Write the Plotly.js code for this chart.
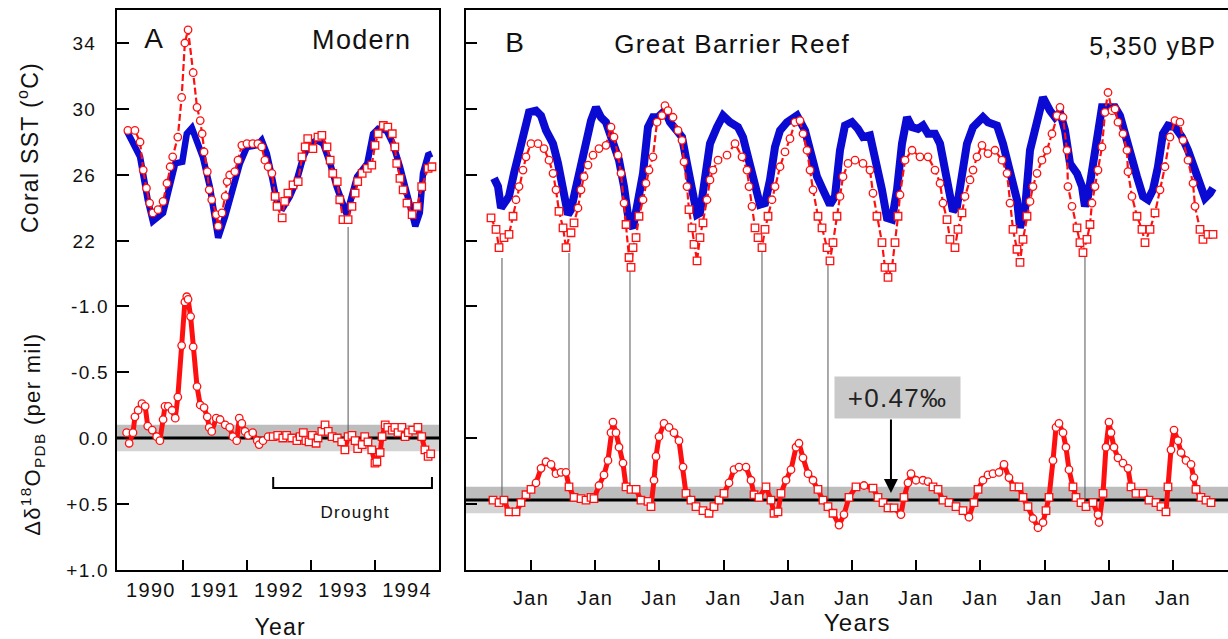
<!DOCTYPE html>
<html>
<head>
<meta charset="utf-8">
<script src="https://cdn.plot.ly/plotly-3.0.1.min.js"></script>
<style>
  html, body { margin: 0; padding: 0; background: #fff; }
  #chart { width: 1228px; height: 639px; }
  .main-svg text { letter-spacing: 1.3px; }
</style>
</head>
<body>
<div id="chart"></div>
<script>
// ---------------- DATA ----------------
// Panel A (Modern) : x in calendar years
const aInstrX = [1990.12,1990.33,1990.45,1990.53,1990.69,1990.80,1990.88,1990.99,1991.06,1991.14,1991.22,1991.31,1991.42,1991.55,1991.66,1991.78,1991.89,1992.00,1992.16,1992.23,1992.31,1992.39,1992.48,1992.56,1992.67,1992.78,1992.88,1992.98,1993.09,1993.19,1993.30,1993.40,1993.50,1993.56,1993.72,1993.88,1993.97,1994.05,1994.18,1994.28,1994.39,1994.50,1994.63,1994.70,1994.75,1994.83,1994.89];
const aInstrSst = [28.7,27.1,24.5,23.2,23.7,25.5,26.7,26.8,28.5,28.85,28.1,27.1,25.3,22.2,23.5,25.3,26.7,27.7,27.8,28.1,27.3,25.9,24.1,24.0,24.7,25.7,27.1,27.9,28.1,27.9,26.7,25.3,24.1,23.6,25.9,26.7,28.5,28.8,28.7,27.9,26.5,24.7,22.9,23.7,26.1,27.2,27.3];

const aCoralX = [1990.14,1990.25,1990.33,1990.38,1990.43,1990.48,1990.53,1990.61,1990.69,1990.75,
  1990.80,1990.84,1990.92,1990.98,1991.03,1991.08,1991.16,1991.22,1991.27,1991.30,
  1991.33,1991.38,1991.41,1991.45,1991.52,1991.55,1991.61,1991.66,1991.69,1991.73,
  1991.81,1991.86,1991.92,1992.00,1992.09,1992.17,1992.23,1992.28,1992.33,1992.39,
  1992.44,1992.47,1992.55,1992.59,1992.64,1992.72,1992.80,1992.86,1992.91,1992.95,
  1993.03,1993.11,1993.17,1993.25,1993.30,1993.34,1993.41,1993.45,1993.50,1993.58,
  1993.64,1993.69,1993.73,1993.80,1993.88,1993.95,1994.00,1994.05,1994.13,1994.20,
  1994.27,1994.31,1994.34,1994.39,1994.44,1994.50,1994.58,1994.66,1994.73,1994.83,1994.89];
const aCoralSst = [28.7,28.7,28.0,26.3,25.2,24.3,23.7,23.9,24.4,25.5,
  26.5,27.1,28.3,30.7,34.0,34.8,32.2,30.1,29.3,28.5,
  27.4,26.2,25.1,24.5,23.6,22.9,23.7,24.7,25.6,26.0,
  26.2,26.9,27.8,27.9,27.9,27.9,27.7,26.9,26.5,26.1,
  24.7,24.1,23.4,24.4,24.9,25.4,25.6,27.1,27.7,28.2,
  27.6,28.3,28.4,27.7,26.9,26.1,25.6,24.5,23.3,23.3,
  24.1,24.9,25.6,26.1,26.4,26.6,27.8,28.5,29.0,28.9,
  28.5,27.7,26.7,25.8,25.1,24.3,23.6,24.1,25.3,26.4,26.5];

const aD18X = [1990.12,1990.16,1990.22,1990.25,1990.30,1990.36,1990.41,1990.45,1990.52,1990.59,
  1990.64,1990.69,1990.72,1990.77,1990.83,1990.88,1990.92,1990.98,1991.03,1991.06,
  1991.08,1991.12,1991.16,1991.22,1991.27,1991.33,1991.38,1991.41,1991.45,1991.52,
  1991.58,1991.66,1991.73,1991.78,1991.84,1991.88,1991.92,1991.97,1992.02,1992.09,
  1992.16,1992.19,1992.25,1992.33,1992.41,1992.48,1992.56,1992.62,1992.70,1992.78,
  1992.83,1992.88,1992.92,1992.97,1993.02,1993.08,1993.11,1993.17,1993.22,1993.27,
  1993.33,1993.41,1993.48,1993.53,1993.58,1993.64,1993.69,1993.73,1993.80,1993.84,
  1993.89,1993.95,1994.00,1994.03,1994.08,1994.11,1994.16,1994.20,1994.27,1994.31,
  1994.36,1994.42,1994.47,1994.52,1994.59,1994.67,1994.73,1994.78,1994.83,1994.87];
const aD18 = [-0.04,0.04,-0.04,-0.16,-0.21,-0.26,-0.24,-0.09,-0.06,-0.01,
  0.02,-0.14,-0.24,-0.24,-0.21,-0.15,-0.31,-0.70,-1.03,-1.07,
  -1.05,-0.92,-0.69,-0.39,-0.25,-0.23,-0.16,-0.08,-0.05,-0.15,
  -0.14,-0.10,-0.08,-0.01,0.02,-0.15,-0.11,-0.05,-0.02,-0.04,
  0.02,0.05,0.02,-0.01,-0.01,-0.02,0.00,-0.02,0.00,0.02,
  -0.01,-0.04,0.02,0.03,-0.02,0.04,0.00,-0.05,-0.10,-0.05,
  -0.01,0.00,0.03,0.09,-0.01,-0.02,0.02,0.08,0.05,-0.01,
  0.03,0.09,0.19,0.18,0.11,-0.01,-0.10,-0.08,-0.06,-0.08,
  -0.04,-0.08,-0.01,-0.04,-0.06,-0.08,-0.01,0.09,0.14,0.12];

// Panel B (Great Barrier Reef, 5,350 yBP): x in years, "Jan" at 1..11
const bInstrX = [0.424,0.486,0.533,0.611,0.657,0.735,0.813,0.891,0.969,1.078,
  1.156,1.234,1.343,1.421,1.499,1.576,1.623,1.701,1.779,1.857,
  1.935,2.012,2.090,2.168,2.277,2.371,2.449,2.527,2.589,2.667,
  2.745,2.822,2.900,2.978,3.087,3.165,3.274,3.352,3.430,3.508,
  3.586,3.632,3.710,3.788,3.897,3.991,4.100,4.224,4.302,4.380,
  4.489,4.567,4.645,4.723,4.801,4.879,4.988,5.143,5.268,5.346,
  5.455,5.548,5.657,5.735,5.813,5.891,6.000,6.093,6.171,6.280,
  6.358,6.467,6.545,6.623,6.701,6.779,6.857,6.935,7.028,7.106,
  7.184,7.293,7.371,7.449,7.526,7.573,7.636,7.713,7.791,7.885,
  8.040,8.118,8.259,8.352,8.461,8.570,8.617,8.695,8.773,8.882,
  8.975,9.084,9.162,9.240,9.318,9.396,9.505,9.583,9.629,9.676,
  9.754,9.832,9.894,9.988,10.097,10.174,10.252,10.330,10.439,10.533,
  10.611,10.688,10.766,10.844,10.922,11.031,11.140,11.234,11.343,11.421,
  11.499,11.576,11.623];
const bInstrSst = [25.8,25.3,24.0,24.5,24.7,26.1,27.3,28.7,29.8,29.9,
  29.6,28.7,27.9,26.7,25.1,23.6,23.9,25.3,26.7,28.1,
  29.3,30.1,29.5,29.2,28.1,26.9,25.3,23.1,22.8,24.5,
  26.1,28.9,29.5,29.5,29.9,29.2,28.6,28.3,26.7,25.3,
  23.6,23.7,25.7,27.9,28.9,29.6,29.2,28.9,28.3,27.1,
  25.7,24.2,24.3,25.7,27.7,28.7,29.2,29.6,28.7,27.6,
  25.9,25.1,24.2,24.7,27.5,29.0,29.2,28.8,28.3,28.4,
  27.2,25.1,23.4,23.3,25.1,27.9,29.5,28.9,28.8,29.0,
  28.5,28.5,27.9,26.1,24.5,23.8,24.1,25.9,27.9,28.9,
  29.5,29.2,29.0,27.9,26.1,24.5,22.8,23.9,27.5,29.3,
  30.7,29.9,29.5,29.8,28.7,26.7,26.1,25.3,24.1,24.7,
  26.7,29.2,30.1,30.1,30.1,29.6,28.5,27.1,25.9,24.7,
  24.5,25.1,26.5,28.5,29.0,28.9,28.3,27.5,26.3,25.3,
  24.6,24.9,25.2];

const bCoralX = [0.377,0.455,0.502,0.579,0.657,0.720,0.766,0.813,0.875,0.922,
  1.000,1.109,1.202,1.280,1.343,1.389,1.436,1.499,1.545,1.623,
  1.670,1.732,1.779,1.826,1.888,1.966,2.059,2.168,2.246,2.293,
  2.355,2.402,2.449,2.480,2.527,2.558,2.589,2.636,2.682,2.745,
  2.791,2.838,2.900,2.963,3.040,3.087,3.134,3.212,3.290,3.352,
  3.383,3.430,3.461,3.508,3.539,3.586,3.632,3.679,3.741,3.788,
  3.835,3.913,4.053,4.178,4.287,4.364,4.396,4.442,4.489,4.536,
  4.598,4.645,4.692,4.754,4.801,4.879,4.956,5.034,5.112,5.190,
  5.237,5.299,5.346,5.393,5.470,5.533,5.611,5.657,5.704,5.766,
  5.813,5.860,5.938,6.047,6.171,6.280,6.327,6.389,6.467,6.514,
  6.561,6.623,6.670,6.717,6.748,6.826,6.935,7.059,7.184,7.293,
  7.371,7.417,7.480,7.526,7.604,7.651,7.713,7.760,7.838,7.885,
  7.947,8.025,8.118,8.227,8.336,8.415,8.461,8.508,8.570,8.617,
  8.664,8.726,8.773,8.819,8.882,8.959,9.037,9.115,9.193,9.240,
  9.287,9.349,9.364,9.427,9.505,9.551,9.598,9.660,9.707,9.738,
  9.785,9.832,9.894,9.941,9.988,10.050,10.097,10.143,10.221,10.283,
  10.299,10.361,10.439,10.517,10.564,10.642,10.720,10.798,10.875,10.953,
  11.031,11.109,11.156,11.234,11.312,11.343,11.421,11.467,11.545,11.623];
const bCoralSst = [23.4,22.7,21.6,22.2,22.4,23.5,24.5,25.3,26.3,27.1,
  27.9,27.9,27.6,26.9,26.1,25.1,23.8,22.8,21.6,22.5,
  23.1,24.0,25.1,25.9,26.6,27.2,27.6,27.8,28.9,28.3,
  27.2,26.1,24.3,23.0,21.0,20.4,21.6,22.2,23.5,24.5,
  25.5,26.3,27.1,29.2,29.6,30.2,29.9,29.5,28.7,28.1,
  26.8,25.3,23.9,22.8,21.8,20.8,22.2,23.1,24.5,25.7,
  26.3,26.9,27.2,27.9,27.1,26.3,25.3,24.1,22.8,22.2,
  21.6,22.7,23.5,24.5,25.3,26.5,27.4,28.2,29.2,29.3,
  28.5,27.5,26.3,25.1,23.5,22.8,21.6,20.8,21.9,23.5,
  24.7,25.9,26.7,26.9,26.7,26.3,24.9,23.5,21.9,20.4,
  19.8,20.4,21.9,23.5,24.8,26.9,27.5,27.1,27.1,26.3,
  25.5,24.3,23.3,22.1,21.6,22.7,23.7,24.7,25.7,26.3,
  27.1,27.8,27.3,27.5,26.9,26.1,24.3,22.7,21.5,20.7,
  22.1,23.5,24.4,25.3,26.1,26.9,27.5,28.5,29.6,30.1,
  29.5,27.5,25.3,24.1,22.8,21.9,21.3,22.1,23.0,24.3,
  25.3,26.3,27.7,29.8,31.0,29.9,30.0,29.2,28.5,27.5,
  26.2,24.7,23.5,22.7,21.9,22.7,23.7,25.1,26.5,28.3,
  29.3,29.2,28.1,26.9,25.5,24.1,22.7,22.1,22.4,22.4];

const bD18X = [0.408,0.502,0.579,0.657,0.766,0.844,0.922,1.000,1.078,1.156,
  1.234,1.312,1.389,1.467,1.545,1.592,1.670,1.779,1.857,1.935,
  1.981,2.059,2.137,2.199,2.246,2.277,2.324,2.371,2.433,2.480,
  2.558,2.636,2.713,2.822,2.869,2.916,2.947,2.994,3.072,3.150,
  3.227,3.305,3.368,3.414,3.492,3.570,3.679,3.773,3.850,3.928,
  4.006,4.084,4.162,4.240,4.349,4.427,4.474,4.551,4.660,4.738,
  4.785,4.847,4.894,4.972,5.050,5.128,5.174,5.237,5.315,5.393,
  5.470,5.548,5.626,5.704,5.798,5.875,5.953,6.062,6.187,6.327,
  6.405,6.483,6.561,6.654,6.763,6.810,6.872,6.919,6.997,7.106,
  7.184,7.262,7.340,7.417,7.511,7.620,7.729,7.822,7.900,7.963,
  8.040,8.118,8.196,8.290,8.368,8.445,8.523,8.601,8.664,8.741,
  8.819,8.897,8.975,9.022,9.069,9.131,9.178,9.224,9.287,9.333,
  9.380,9.442,9.489,9.567,9.645,9.754,9.832,9.847,9.910,9.956,
  10.003,10.034,10.081,10.143,10.221,10.299,10.346,10.424,10.533,10.626,
  10.735,10.813,10.891,10.922,10.969,11.016,11.078,11.125,11.203,11.281,
  11.327,11.358,11.436,11.514,11.592];
const bD18 = [0.47,0.49,0.47,0.56,0.56,0.49,0.43,0.39,0.34,0.23,
  0.18,0.20,0.27,0.26,0.26,0.37,0.45,0.46,0.47,0.45,
  0.46,0.36,0.28,0.17,-0.04,-0.12,-0.04,0.07,0.19,0.37,
  0.39,0.39,0.47,0.48,0.52,0.32,0.14,-0.01,-0.11,-0.08,
  -0.04,0.02,0.22,0.42,0.47,0.52,0.55,0.57,0.52,0.47,
  0.42,0.34,0.24,0.22,0.22,0.32,0.43,0.45,0.37,0.47,
  0.57,0.56,0.42,0.32,0.24,0.07,0.04,0.15,0.27,0.32,
  0.39,0.47,0.52,0.57,0.66,0.58,0.45,0.37,0.36,0.38,
  0.45,0.49,0.53,0.53,0.58,0.45,0.34,0.27,0.32,0.32,
  0.33,0.37,0.39,0.47,0.49,0.52,0.55,0.60,0.49,0.39,
  0.32,0.28,0.27,0.26,0.20,0.30,0.37,0.37,0.45,0.52,
  0.61,0.68,0.64,0.55,0.45,0.17,-0.08,-0.11,-0.04,0.07,
  0.24,0.37,0.45,0.49,0.52,0.49,0.58,0.64,0.42,0.07,
  -0.12,-0.04,0.07,0.15,0.19,0.23,0.37,0.42,0.42,0.47,
  0.49,0.52,0.56,0.37,0.09,-0.06,0.02,0.11,0.17,0.20,
  0.30,0.39,0.45,0.47,0.49];

// connectors: time, SST at top end, d18O at bottom end
const aLinkX = [1993.58];
const aLinkSst = [22.85];
const aLinkD18 = [-0.05];
const bLinkX = [0.548, 1.592, 2.542, 4.598, 5.626, 9.629];
const bLinkSst = [20.97, 21.27, 20.24, 21.33, 20.67, 21.03];
const bLinkD18 = [0.45, 0.24, 0.39, 0.34, 0.47, 0.47];

// reference levels
const aBaseline = 0.0;
const bBaseline = 0.47;
const bandHalf = 0.1;
const bOffsetLabel = '+0.47‰';
const droughtStart = 1992.41, droughtEnd = 1994.89;

// tick labels
const aYearLabels = ['1990','1991','1992','1993','1994'];
const aYearLabelPos = [1990.5,1991.5,1992.5,1993.5,1994.5];
const aYearBounds = [1991,1992,1993,1994];
const sstTicks = [22,26,30,34];
const d18TicksA = [-1.0,-0.5,0.0,0.5,1.0];
const d18TextA = ['-1.0','-0.5','0.0','+0.5','+1.0'];
const d18TicksB = [-1.0,0.0,0.5];
const bJanTicks = [1,2,3,4,5,6,7,8,9,10,11];
const bJanText = bJanTicks.map(() => 'Jan');

// ---------------- STYLE / LAYOUT ----------------
const FONT = '"Liberation Sans", Arial, Helvetica, sans-serif';
const W = 1228, H = 639;
const BLUE = '#0a0ad2', RED = '#ff1010';
const sstRange = [2.06, 36.0];
const d18Range = [1.0, -3.242];
const domY = [(H - 570) / H, (H - 10) / H];
const px = v => v / W, py = v => 1 - v / H;
function sstToD18(s) {
  const f = (s - sstRange[0]) / (sstRange[1] - sstRange[0]);
  return d18Range[0] + f * (d18Range[1] - d18Range[0]);
}
const mk = (symbols) => ({ symbol: symbols, size: 7.5, color: '#fff', line: { color: RED, width: 1.3 } });

const traces = [
  { x: aInstrX, y: aInstrSst, xaxis: 'x', yaxis: 'y', mode: 'lines',
    line: { color: BLUE, width: 6.5 }, hoverinfo: 'skip' },
  { x: aCoralX, y: aCoralSst, xaxis: 'x', yaxis: 'y', mode: 'lines+markers',
    line: { color: RED, width: 2.2, dash: '7px,3px' },
    marker: mk(aCoralX.map(t => t < 1992.4 ? 'circle' : 'square')) },
  { x: aD18X, y: aD18, xaxis: 'x', yaxis: 'y2', mode: 'lines+markers',
    line: { color: RED, width: 5 },
    marker: mk(aD18X.map(t => t < 1992.4 ? 'circle' : 'square')) },
  { x: bInstrX, y: bInstrSst, xaxis: 'x2', yaxis: 'y3', mode: 'lines',
    line: { color: BLUE, width: 8 } },
  { x: bCoralX, y: bCoralSst, xaxis: 'x2', yaxis: 'y3', mode: 'lines+markers',
    line: { color: RED, width: 2.2, dash: '7px,3px' },
    marker: mk(bCoralSst.map(v => v < 24 ? 'square' : 'circle')) },
  { x: bD18X, y: bD18, xaxis: 'x2', yaxis: 'y4', mode: 'lines+markers',
    line: { color: RED, width: 5 },
    marker: mk(bD18.map(v => Math.abs(v - bBaseline) < bandHalf ? 'square' : 'circle')) }
];

const shapes = [];
function band(xr, yr, base) {
  shapes.push({ type: 'rect', layer: 'below', xref: xr + ' domain', x0: 0, x1: 1, yref: yr,
    y0: base - bandHalf, y1: base, fillcolor: '#bdbdbd', line: { width: 0 } });
  shapes.push({ type: 'rect', layer: 'below', xref: xr + ' domain', x0: 0, x1: 1, yref: yr,
    y0: base, y1: base + bandHalf, fillcolor: '#d4d4d4', line: { width: 0 } });
  shapes.push({ type: 'line', layer: 'below', xref: xr + ' domain', x0: 0, x1: 1, yref: yr,
    y0: base, y1: base, line: { color: '#000', width: 3 } });
}
band('x', 'y2', aBaseline);
band('x2', 'y4', bBaseline);
function links(xr, yr, xs, ss, ds) {
  xs.forEach((t, i) => shapes.push({ type: 'line', layer: 'below', xref: xr, yref: yr,
    x0: t, x1: t, y0: sstToD18(ss[i]), y1: ds[i], line: { color: '#555', width: 1 } }));
}
links('x', 'y2', aLinkX, aLinkSst, aLinkD18);
links('x2', 'y4', bLinkX, bLinkSst, bLinkD18);
shapes.push({ type: 'path', xref: 'x', yref: 'y2',
  path: `M${droughtStart},0.295 L${droughtStart},0.379 L${droughtEnd},0.379 L${droughtEnd},0.295`,
  line: { color: '#000', width: 2 } });

const ann = (text, x, y, size, extra) => Object.assign({ text, x: px(x), y: py(y), xref: 'paper', yref: 'paper',
  showarrow: false, xanchor: 'center', yanchor: 'middle', font: { size, family: FONT, color: '#111' } }, extra || {});

const annotations = [
  ann('A', 154, 39, 28),
  ann('Modern', 362, 40, 27),
  ann('B', 515, 42, 28),
  ann('Great Barrier Reef', 732, 44, 26),
  ann('5,350 yBP', 1152, 46, 25),
  ann('Year', 280, 627, 23),
  ann('Years', 857, 622, 24),
  ann('Coral SST (<sup>o</sup>C)', 28, 148, 23, { textangle: -90 }),
  ann('Δδ<sup>18</sup>O<sub>PDB</sub> (per mil)', 32, 434, 22, { textangle: -90 }),
  { text: 'Drought', x: 1993.69, y: 0.568, xref: 'x', yref: 'y2', showarrow: false,
    font: { size: 17, family: FONT, color: '#111' } },
  { text: bOffsetLabel, x: (898 - 466.8) / 64.2, y: -0.307, xref: 'x2', yref: 'y4', showarrow: false,
    bgcolor: '#c9c9c9', width: 115, height: 31, borderpad: 5,
    font: { size: 26, family: FONT, color: '#222' } },
  { text: '', x: 6.607, y: 0.417, xref: 'x2', yref: 'y4', ax: 6.607, ay: -0.152, axref: 'x2', ayref: 'y4',
    showarrow: true, arrowhead: 2, arrowsize: 1.4, arrowwidth: 2, arrowcolor: '#000' }
];

const axBase = { showgrid: false, zeroline: false, linecolor: '#000', linewidth: 2, tickcolor: '#000',
  tickwidth: 2, automargin: false };

const layout = {
  width: W, height: H, margin: { l: 0, r: 0, t: 0, b: 0 }, showlegend: false,
  paper_bgcolor: '#fff', plot_bgcolor: 'rgba(0,0,0,0)',
  font: { family: FONT, size: 19, color: '#111' },
  xaxis: Object.assign({}, axBase, { domain: [px(117), px(439)], range: [1989.97, 1995.0], anchor: 'y',
    showline: true, mirror: true, tickmode: 'array', tickvals: aYearLabelPos, ticktext: aYearLabels,
    ticks: '', ticklabelstandoff: 1, tickfont: { size: 20 },
    minor: { tickmode: 'array', tickvals: aYearBounds, ticks: 'inside', ticklen: 10, tickwidth: 2, tickcolor: '#000', showgrid: false } }),
  yaxis: Object.assign({}, axBase, { domain: domY, range: sstRange, anchor: 'x', showline: true, mirror: true,
    tickmode: 'array', tickvals: sstTicks, ticks: 'inside', ticklen: 12, ticklabelstandoff: 15 }),
  yaxis2: Object.assign({}, axBase, { overlaying: 'y', anchor: 'x', side: 'left', range: d18Range,
    showline: false, tickmode: 'array', tickvals: d18TicksA, ticktext: d18TextA, ticks: 'inside', ticklen: 12,
    ticklabelstandoff: 7 }),
  xaxis2: Object.assign({}, axBase, { domain: [px(466), 1], range: [-0.0125, 11.857], anchor: 'y3',
    showline: true, mirror: true, tickmode: 'array', tickvals: bJanTicks, ticktext: bJanText,
    ticks: 'inside', ticklen: 10, ticklabelstandoff: 9, tickfont: { size: 20 } }),
  yaxis3: Object.assign({}, axBase, { domain: domY, range: sstRange, anchor: 'x2', showline: true, mirror: false,
    tickmode: 'array', tickvals: sstTicks, ticks: 'inside', ticklen: 11, showticklabels: false }),
  yaxis4: Object.assign({}, axBase, { overlaying: 'y3', anchor: 'x2', side: 'left', range: d18Range,
    showline: false, tickmode: 'array', tickvals: d18TicksB, ticks: 'inside', ticklen: 11, showticklabels: false }),
  shapes, annotations
};

Plotly.newPlot('chart', traces, layout, { staticPlot: true, displayModeBar: false });
</script>
</body>
</html>
